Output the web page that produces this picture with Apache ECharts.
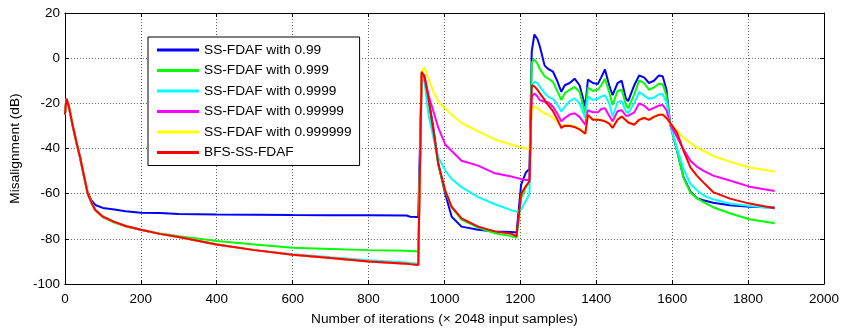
<!DOCTYPE html>
<html>
<head>
<meta charset="utf-8">
<script src="https://cdn.jsdelivr.net/npm/echarts@6/dist/echarts.min.js"></script>
<style>
  html, body { margin: 0; padding: 0; background: #fff; }
  #chart { width: 842px; height: 331px; }
</style>
</head>
<body>
<div id="chart"></div>
<script>
// Iteration index (x 2048 input samples) shared by every curve
const iterations = [
  0, 4, 10, 20, 30, 40, 50, 60, 70, 80, 100, 130, 160, 200, 250, 300, 400, 500, 600, 700, 800, 900, 910, 931,
  940, 947, 958, 971, 984, 1002, 1019, 1045, 1089, 1133, 1176, 1190, 1202, 1215, 1224,
  1230, 1237, 1245, 1251, 1264, 1273, 1286, 1297, 1308, 1317, 1330, 1343, 1356, 1371, 1378, 1391, 1404, 1413,
  1423, 1434, 1443, 1456, 1467, 1478, 1484, 1500, 1513, 1526, 1539, 1552, 1565, 1575, 1585, 1595, 1613, 1630,
  1648, 1665, 1682, 1708, 1752, 1804, 1870
];

// Misalignment in dB for each filter
const ss099 = [
  -25, -18, -21, -29.5, -37, -44, -52, -59.5, -63, -65, -66.3, -67, -67.8, -68.4, -68.6, -69, -69.2, -69.3, -69.5, -69.6, -69.6, -69.7, -70.2, -70.3,
  -6.5, -8.5, -18, -31, -47, -60, -70.2, -74.6, -76, -76.7, -77, -77.2, -56, -50.5, -49,
  3, 10.5, 8.5, 5.4, -3.3, -4.7, -6, -10, -14.9, -12, -11, -9.1, -12, -21.4, -9.5, -11, -11.5, -8.5,
  -5, -12, -16.4, -11, -10, -17.8, -19, -12, -7.7, -8.5, -11, -10, -7.7, -8, -14, -29.5, -41.1, -52.7,
  -59, -62, -62.9, -64, -65.1, -65.8, -66.1
];
const ss0999 = [
  -25, -18, -21, -29.5, -37, -44, -52, -60, -64, -67.4, -70.5, -72.8, -74.5, -76, -77.6, -78.8, -81, -82.5, -84, -84.5, -85, -85.3, -85.4, -85.6,
  -6.5, -8.5, -18.5, -33, -47.5, -59, -66, -71.5, -75, -77.5, -78.8, -79.5, -62, -57, -55,
  -2, -0.5, -2.5, -4.7, -8, -9, -10.5, -14.5, -18.6, -15.5, -14, -12.7, -15, -24.4, -13, -14.5, -14, -12,
  -9.1, -15, -20.7, -14.5, -14, -20.5, -22.2, -16, -9.8, -11, -14, -13, -11.3, -11.5, -16.5, -29.5, -41, -53,
  -59.5, -62, -63.7, -66, -68.7, -71.3, -73.1
];
const ss09999 = [
  -25, -18, -21, -29.5, -37, -44, -52, -60, -64, -67.2, -70.2, -72.5, -74.3, -76, -77.8, -79.2, -82.5, -85, -86.8, -88.2, -89.5, -90.5, -90.7, -91,
  -9, -10, -25.1, -35.3, -44, -49.8, -53.5, -57.1, -61.5, -64.7, -67.3, -68, -67, -63, -60,
  -12, -10.5, -11, -12.5, -15.5, -17, -18, -20.5, -23.6, -21.5, -19, -17.8, -20, -26.5, -17, -18.5, -18, -17,
  -16.4, -20, -25.8, -19.5, -19, -23.5, -24.4, -20, -15, -16.5, -18, -17.5, -16, -16, -19.5, -29.5, -40, -49,
  -55.6, -58.5, -60.7, -62.5, -64.4, -65.5, -66.5
];
const ss099999 = [
  -25, -18, -21, -29.5, -37, -44, -52, -60, -64, -67.2, -70.2, -72.5, -74.3, -76, -77.8, -79.2, -82.5, -85, -87, -88.5, -90, -91, -91.2, -91.5,
  -7, -7.5, -16.4, -23.6, -30.9, -38.2, -41.1, -45.4, -47.6, -51, -52.4, -53, -53.5, -54, -54,
  -17, -15.6, -17, -18.5, -19.3, -19.5, -21.5, -24.5, -28, -26.5, -25, -24.4, -26, -29.5, -23, -24, -24, -22.5,
  -22.2, -25.5, -28, -23.5, -23, -25.5, -25.5, -24, -20, -21, -23, -22, -21, -20.7, -23, -29.5, -35, -40.5,
  -45.4, -48, -49.8, -52, -54.2, -56.9, -58.8
];
const ss0999999 = [
  -25, -18, -21, -29.5, -37, -44, -52, -60, -64, -67.2, -70.2, -72.5, -74.3, -76, -77.8, -79.2, -82.5, -85, -87, -88.5, -90, -91, -91.2, -91.5,
  -6, -4, -9.1, -14.9, -19.3, -22.2, -25.1, -28.7, -32.4, -36, -38.2, -39, -39.5, -40, -40.5,
  -23, -21.4, -22, -23, -24.5, -25, -26.5, -28, -30.5, -29.6, -29.7, -30.2, -31.2, -33.2, -25, -27, -27, -27.3,
  -27.8, -28.8, -30.6, -27.1, -25.6, -27.3, -28.3, -29.3, -27.1, -26.3, -27.1, -25.8, -24.9, -24.8, -26.3, -29, -32, -35.3,
  -37.5, -39.6, -41, -43.3, -45.8, -48.4, -50.2
];
const bfs = [
  -25, -18, -21, -29.5, -37, -44, -52, -60, -64, -67.2, -70.2, -72.5, -74.3, -76, -77.8, -79.2, -82.5, -85, -87, -88.5, -90, -91, -91.2, -91.6,
  -6, -8, -17.8, -32.4, -46.9, -58.5, -65.8, -70.9, -74.6, -76.7, -77.7, -78.9, -60, -56.5, -54.5,
  -12, -12.5, -14, -15.5, -18.5, -20.7, -23.5, -27, -30.9, -29.9, -30, -30.5, -31.5, -33.5, -25.1, -27.3, -27.3, -27.5,
  -28, -29, -30.9, -27.3, -25.8, -27.5, -28.5, -29.5, -27.3, -26.5, -27.3, -26, -25.1, -25, -26.5, -28.7, -33.1, -41.1,
  -48.4, -52, -55, -59.3, -62.2, -64.4, -66.5
];

const seriesNames = [
  'SS-FDAF with 0.99',
  'SS-FDAF with 0.999',
  'SS-FDAF with 0.9999',
  'SS-FDAF with 0.99999',
  'SS-FDAF with 0.999999',
  'BFS-SS-FDAF'
];
const seriesValues = [ss099, ss0999, ss09999, ss099999, ss0999999, bfs];
const seriesColors = ['#0000ff', '#00ff00', '#00ffff', '#ff00ff', '#ffff00', '#ff0000'];

const xTicks = { min: 0, max: 2000, interval: 200 };
const yTicks = { min: -100, max: 20, interval: 20 };

const FONT = 'Liberation Sans, Arial, sans-serif';
const TICK_SIZE = 13.5;
const TEXT_SIZE = 13.7;

const chart = echarts.init(document.getElementById('chart'), null, { renderer: 'canvas' });

const frameAxis = {
  axisLine: { show: true, onZero: false, lineStyle: { color: '#000', width: 1 } },
  axisTick: { show: true, inside: true, length: 4, lineStyle: { color: '#000' } }
};
const gridLines = { show: true, lineStyle: { color: '#606060', width: 1, type: [1, 2] } };

chart.setOption({
  animation: false,
  backgroundColor: '#fff',
  grid: { left: 64, right: 14, top: 13, bottom: 43, containLabel: false },
  legend: {
    orient: 'vertical',
    left: 148,
    top: 37,
    padding: [5, 8, 5, 9],
    itemGap: 4.5,
    itemWidth: 42,
    itemHeight: 3,
    icon: 'rect',
    borderColor: '#000',
    borderWidth: 1,
    backgroundColor: '#fff',
    textStyle: { fontFamily: FONT, fontSize: TEXT_SIZE, color: '#000', lineHeight: 16 },
    data: seriesNames
  },
  xAxis: [
    Object.assign({
      type: 'value', position: 'bottom',
      min: xTicks.min, max: xTicks.max, interval: xTicks.interval,
      name: 'Number of iterations (\u00d7 2048 input samples)',
      nameLocation: 'middle', nameGap: 28,
      nameTextStyle: { fontFamily: FONT, fontSize: TEXT_SIZE, color: '#000' },
      axisLabel: { fontFamily: FONT, fontSize: TICK_SIZE, color: '#000', margin: 8, formatter: v => String(v) },
      splitLine: gridLines
    }, frameAxis),
    Object.assign({
      type: 'value', position: 'top',
      min: xTicks.min, max: xTicks.max, interval: xTicks.interval,
      axisLabel: { show: false }, splitLine: { show: false }
    }, frameAxis)
  ],
  yAxis: [
    Object.assign({
      type: 'value', position: 'left',
      min: yTicks.min, max: yTicks.max, interval: yTicks.interval,
      name: 'Misalignment (dB)',
      nameLocation: 'middle', nameGap: 38,
      nameTextStyle: { fontFamily: FONT, fontSize: TEXT_SIZE, color: '#000' },
      axisLabel: { fontFamily: FONT, fontSize: TICK_SIZE, color: '#000', margin: 5, formatter: v => String(v) },
      splitLine: gridLines
    }, frameAxis),
    Object.assign({
      type: 'value', position: 'right',
      min: yTicks.min, max: yTicks.max, interval: yTicks.interval,
      axisLabel: { show: false }, splitLine: { show: false }
    }, frameAxis)
  ],
  series: seriesNames.map((name, k) => ({
    name: name,
    type: 'line',
    xAxisIndex: 0,
    yAxisIndex: 0,
    showSymbol: false,
    symbol: 'none',
    lineStyle: { color: seriesColors[k], width: 2 },
    itemStyle: { color: seriesColors[k] },
    data: iterations.map((x, i) => [x, seriesValues[k][i]])
  }))
});
</script>
</body>
</html>
